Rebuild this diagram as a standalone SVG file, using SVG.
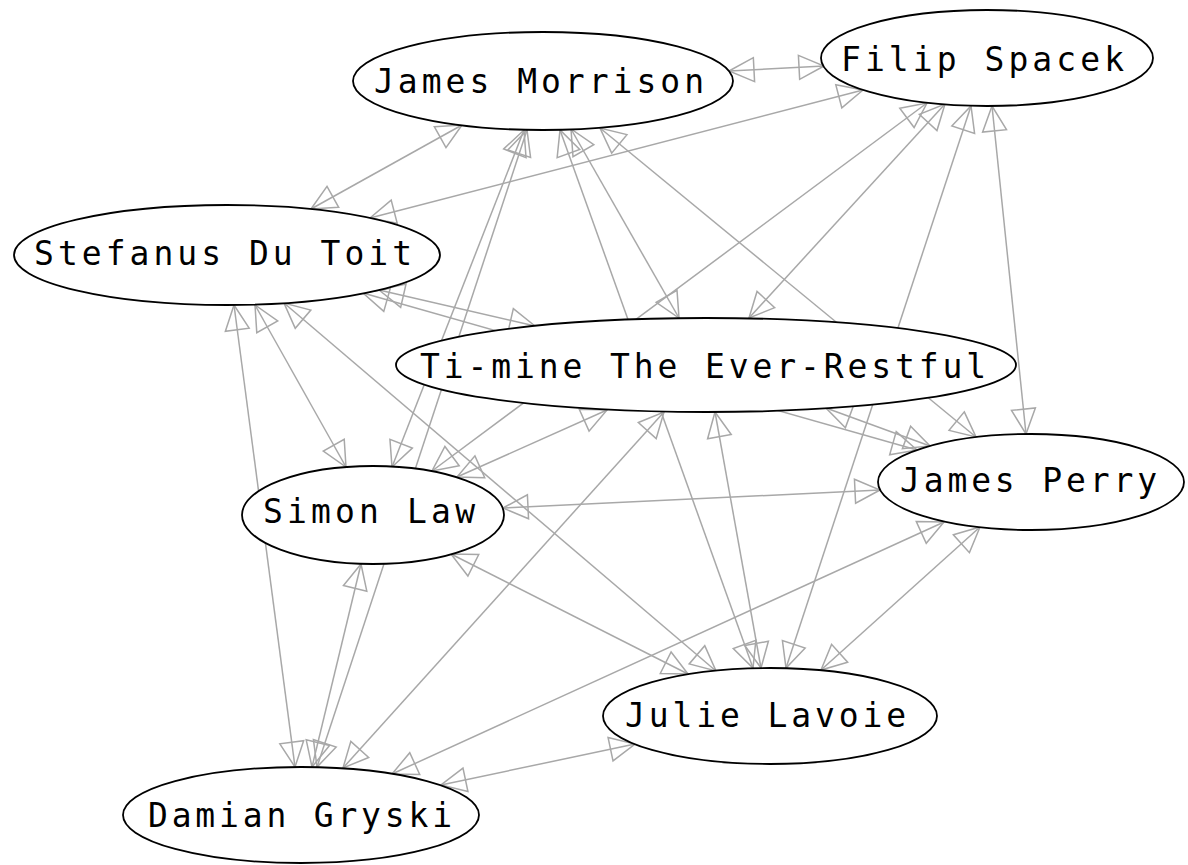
<svg xmlns="http://www.w3.org/2000/svg" width="1188" height="865" viewBox="0 0 1188 865">
<style>
.edge{stroke:#a8a8a8;stroke-width:1.5;fill:none;marker-start:url(#h);marker-end:url(#h)}
.node ellipse{fill:#fff;stroke:#000;stroke-width:1.8}
.node text{font-family:"DejaVu Sans Mono","Liberation Mono",monospace;font-size:33px;fill:#000}
</style>
<defs>
<marker id="h" markerUnits="userSpaceOnUse" markerWidth="30" markerHeight="30" refX="25" refY="13" orient="auto-start-reverse" overflow="visible">
<path d="M0,1 L25,13 L0,25 Z" fill="none" stroke="#a8a8a8" stroke-width="1.5"/>
</marker>
</defs>
<rect width="1188" height="865" fill="#fff"/>
<g id="edges">
<line class="edge" x1="729" y1="71" x2="824" y2="66"/>
<line class="edge" x1="462" y1="125" x2="311" y2="209"/>
<line class="edge" x1="863" y1="90" x2="370" y2="218"/>
<line class="edge" x1="571" y1="129" x2="679" y2="318"/>
<line class="edge" x1="524" y1="130" x2="392" y2="467"/>
<line class="edge" x1="600" y1="128" x2="976" y2="437"/>
<line class="edge" x1="560" y1="130" x2="753" y2="668"/>
<line class="edge" x1="527" y1="130" x2="317" y2="767"/>
<line class="edge" x1="945" y1="104" x2="749" y2="318"/>
<line class="edge" x1="927" y1="103" x2="432" y2="471"/>
<line class="edge" x1="992" y1="106" x2="1026" y2="434"/>
<line class="edge" x1="971" y1="106" x2="786" y2="668"/>
<line class="edge" x1="379" y1="290" x2="535" y2="326"/>
<line class="edge" x1="255" y1="305" x2="346" y2="467"/>
<line class="edge" x1="363" y1="293" x2="917" y2="450"/>
<line class="edge" x1="284" y1="303" x2="716" y2="671"/>
<line class="edge" x1="234" y1="305" x2="295" y2="767"/>
<line class="edge" x1="607" y1="410" x2="457" y2="477"/>
<line class="edge" x1="826" y1="408" x2="930" y2="446"/>
<line class="edge" x1="715" y1="412" x2="761" y2="668"/>
<line class="edge" x1="664" y1="412" x2="343" y2="768"/>
<line class="edge" x1="503" y1="508" x2="880" y2="490"/>
<line class="edge" x1="451" y1="554" x2="688" y2="674"/>
<line class="edge" x1="361" y1="564" x2="312" y2="767"/>
<line class="edge" x1="980" y1="527" x2="821" y2="670"/>
<line class="edge" x1="944" y1="522" x2="392" y2="774"/>
<line class="edge" x1="635" y1="744" x2="441" y2="785"/>
</g>
<g id="james-morrison" class="node"><ellipse cx="543" cy="81" rx="190" ry="49"/><text x="374" y="93" textLength="330" lengthAdjust="spacing">James Morrison</text></g>
<g id="filip-spacek" class="node"><ellipse cx="987" cy="58" rx="166" ry="48"/><text x="841" y="71" textLength="283" lengthAdjust="spacing">Filip Spacek</text></g>
<g id="stefanus-du-toit" class="node"><ellipse cx="227" cy="255" rx="213" ry="50"/><text x="34" y="265" textLength="378" lengthAdjust="spacing">Stefanus Du Toit</text></g>
<g id="ti-mine" class="node"><ellipse cx="706" cy="365" rx="310" ry="47"/><text x="420" y="378" textLength="566" lengthAdjust="spacing">Ti-mine The Ever-Restful</text></g>
<g id="simon-law" class="node"><ellipse cx="373" cy="515" rx="131" ry="49"/><text x="263" y="523" textLength="212" lengthAdjust="spacing">Simon Law</text></g>
<g id="james-perry" class="node"><ellipse cx="1031" cy="482" rx="153" ry="48"/><text x="900" y="492" textLength="257" lengthAdjust="spacing">James Perry</text></g>
<g id="julie-lavoie" class="node"><ellipse cx="770" cy="716" rx="167" ry="48"/><text x="625" y="727" textLength="281" lengthAdjust="spacing">Julie Lavoie</text></g>
<g id="damian-gryski" class="node"><ellipse cx="301" cy="815" rx="178" ry="48"/><text x="148" y="827" textLength="304" lengthAdjust="spacing">Damian Gryski</text></g>
</svg>
